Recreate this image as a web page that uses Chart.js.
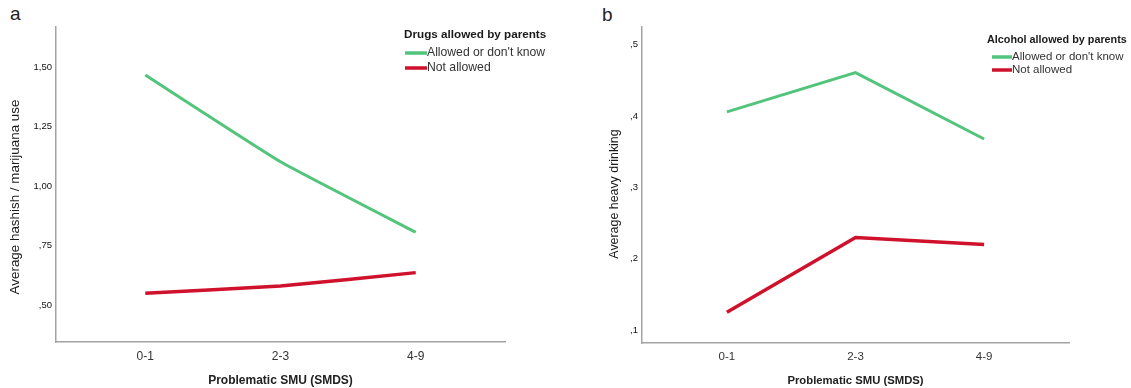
<!DOCTYPE html>
<html>
<head>
<meta charset="utf-8">
<script src="https://cdn.jsdelivr.net/npm/chart.js@4/dist/chart.umd.min.js"></script>
<style>
body{margin:0;background:#fff;width:1131px;height:388px;overflow:hidden;position:relative;font-family:"Liberation Sans",Arial,sans-serif;}
.panel{position:absolute;top:0;height:388px;}
#panelA{left:0;width:565px;}
#panelB{left:575px;width:556px;}
.tag{position:absolute;font-size:19px;color:#222;line-height:22px;}
</style>
</head>
<body>
<div class="tag" style="left:10px;top:3px">a</div>
<div class="tag" style="left:602px;top:4px">b</div>
<div class="panel" id="panelA"><canvas id="chartA"></canvas></div>
<div class="panel" id="panelB"><canvas id="chartB"></canvas></div>
<script>
// data
const categories = ['0-1', '2-3', '4-9'];
const seriesNames = ["Allowed or don't know", 'Not allowed'];
const drugsAllowed = [1.468, 1.103, 0.806];
const drugsNotAllowed = [0.549, 0.580, 0.636];
const alcoholAllowed = [0.406, 0.461, 0.368];
const alcoholNotAllowed = [0.125, 0.230, 0.220];
const drugTicks = [0.5, 0.75, 1.0, 1.25, 1.5];
const drugTickLabels = [',50', ',75', '1,00', '1,25', '1,50'];
const alcoholTicks = [0.1, 0.2, 0.3, 0.4, 0.5];
const alcoholTickLabels = [',1', ',2', ',3', ',4', ',5'];

const green = '#52c47c';
const red = '#d0112b';
const font = '"Liberation Sans", Arial, sans-serif';

// y title + legend drawn on top, SPSS style
const panelText = {
    id: 'panelText',
    afterDraw(chart, args, o) {
        let ctx = chart.ctx;
        ctx.save();
        ctx.fillStyle = '#1a1a1a';
        ctx.font = o.yTitleSize + 'px ' + font;
        ctx.textAlign = 'center';
        ctx.textBaseline = 'middle';
        ctx.translate(o.yTitleX, o.yTitleY);
        ctx.rotate(-Math.PI / 2);
        ctx.fillText(o.yTitle, 0, 0);
        ctx.restore();

        ctx.save();
        ctx.textAlign = 'left';
        ctx.textBaseline = 'middle';
        ctx.fillStyle = '#1a1a1a';
        ctx.font = 'bold ' + o.legendTitleSize + 'px ' + font;
        ctx.fillText(o.legendTitle, o.legendX, o.legendY);
        chart.data.datasets.forEach(function(ds, i) {
            let y = o.itemY[i];
            ctx.strokeStyle = ds.borderColor;
            ctx.lineWidth = 3.5;
            ctx.beginPath();
            ctx.moveTo(o.lineX, y);
            ctx.lineTo(o.lineX + o.lineW, y);
            ctx.stroke();
            ctx.fillStyle = '#333';
            ctx.font = o.itemSize + 'px ' + font;
            ctx.fillText(ds.label, o.lineX + o.lineW, y);
        });
        ctx.restore();
    }
};

function toPoints(arr) {
    return arr.map(function(v, i) { return {x: i, y: v}; });
}

function panel(id, cfg) {
    return new Chart(document.getElementById(id), {
        type: 'line',
        data: {
            datasets: [{
                label: seriesNames[0],
                data: toPoints(cfg.allowed),
                borderColor: green,
                borderWidth: 3,
                pointRadius: 0,
                tension: cfg.tension,
                borderCapStyle: 'butt'
            }, {
                label: seriesNames[1],
                data: toPoints(cfg.notAllowed),
                borderColor: red,
                borderWidth: 3.5,
                pointRadius: 0,
                tension: cfg.tension,
                borderCapStyle: 'butt'
            }]
        },
        plugins: [panelText],
        options: {
            responsive: true,
            maintainAspectRatio: false,
            animation: false,
            layout: {padding: {top: 27, right: cfg.padRight, left: 0, bottom: 0}},
            plugins: {
                legend: {display: false},
                tooltip: {enabled: false},
                panelText: cfg.text
            },
            scales: {
                x: {
                    type: 'linear',
                    min: -0.66,
                    max: 2.66,
                    afterBuildTicks: function(s) {
                        s.ticks = categories.map(function(c, i) { return {value: i}; });
                    },
                    afterFit: function(s) { s.height = cfg.xHeight; },
                    grid: {display: false, drawTicks: false},
                    border: {color: '#a3a3a3', width: 1.5},
                    ticks: {
                        autoSkip: false,
                        maxRotation: 0,
                        padding: 7,
                        color: '#333',
                        font: {family: font, size: cfg.xTickSize},
                        callback: function(v) { return categories[v]; }
                    },
                    title: {
                        display: true,
                        text: 'Problematic SMU (SMDS)',
                        color: '#222',
                        font: {family: font, size: cfg.xTitleSize, weight: 'bold'},
                        padding: {top: 0, bottom: 0}
                    }
                },
                y: {
                    min: cfg.yMin,
                    max: cfg.yMax,
                    afterBuildTicks: function(s) {
                        s.ticks = cfg.ticks.map(function(v) { return {value: v}; });
                    },
                    afterFit: function(s) { s.width = cfg.yWidth; },
                    grid: {display: false, drawTicks: false},
                    border: {color: '#a3a3a3', width: 1.5},
                    ticks: {
                        padding: 4,
                        color: '#111',
                        font: {family: font, size: 9.5},
                        callback: function(v) { return cfg.tickLabels[cfg.ticks.indexOf(v)]; }
                    }
                }
            }
        }
    });
}

panel('chartA', {
    allowed: drugsAllowed,
    notAllowed: drugsNotAllowed,
    ticks: drugTicks,
    tickLabels: drugTickLabels,
    yMin: 0.344,
    yMax: 1.67,
    tension: 0.12,
    padRight: 60,
    yWidth: 56,
    xHeight: 46,
    xTickSize: 12,
    xTitleSize: 12,
    text: {
        yTitle: 'Average hashish / marijuana use', yTitleSize: 13.4, yTitleX: 15, yTitleY: 197,
        legendTitle: 'Drugs allowed by parents', legendTitleSize: 11.7, legendX: 404, legendY: 35,
        lineX: 405, lineW: 22, itemY: [53, 68], itemSize: 12.2
    }
});

panel('chartB', {
    allowed: alcoholAllowed,
    notAllowed: alcoholNotAllowed,
    ticks: alcoholTicks,
    tickLabels: alcoholTickLabels,
    yMin: 0.082,
    yMax: 0.525,
    tension: 0,
    padRight: 62,
    yWidth: 67,
    xHeight: 45,
    xTickSize: 11.5,
    xTitleSize: 11.3,
    text: {
        yTitle: 'Average heavy drinking', yTitleSize: 12.4, yTitleX: 40, yTitleY: 194,
        legendTitle: 'Alcohol allowed by parents', legendTitleSize: 10.8, legendX: 412, legendY: 40,
        lineX: 417, lineW: 20, itemY: [57, 70], itemSize: 11.5
    }
});
</script>
</body>
</html>
